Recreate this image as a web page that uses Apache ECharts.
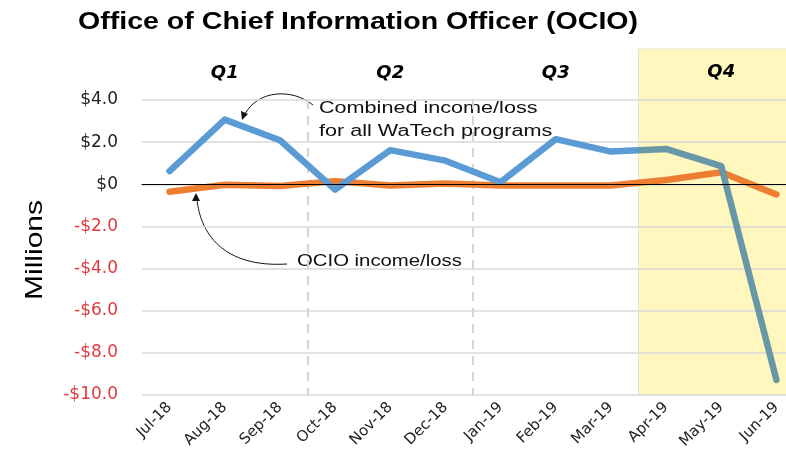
<!DOCTYPE html>
<html>
<head>
<meta charset="utf-8">
<script src="https://cdn.jsdelivr.net/npm/echarts@6/dist/echarts.min.js"></script>
<style>
html, body { margin: 0; padding: 0; background: #fff; }
#chart { width: 786px; height: 459px; }
</style>
</head>
<body>
<div id="chart"></div>
<script>
// data
var months = ['Jul-18', 'Aug-18', 'Sep-18', 'Oct-18', 'Nov-18', 'Dec-18',
    'Jan-19', 'Feb-19', 'Mar-19', 'Apr-19', 'May-19', 'Jun-19'];
var combined = [0.63, 3.07, 2.09, -0.25, 1.62, 1.12, 0.1, 2.14, 1.55, 1.68, 0.86, -9.28];
var ocio = [-0.35, -0.02, -0.08, 0.15, -0.06, 0.04, -0.06, -0.06, -0.06, 0.2, 0.57, -0.48];
var quarters = ['Q1', 'Q2', 'Q3', 'Q4'];
var quarterStart = [0, 3, 6, 9];
var yTicks = [-10, -8, -6, -4, -2, 0, 2, 4];

var blue = '#5B9BD5',
    teal = '#6898A7',
    orange = '#ED7D31';

var chart = echarts.init(document.getElementById('chart'));

// quarter bands, Q4 shaded
var qAreas = [];
quarters.forEach(function(q, i) {
    qAreas.push([{
        name: q,
        xAxis: quarterStart[i],
        itemStyle: i == 3 ? { color: '#FFF7BD', borderColor: '#E4E4D4', borderWidth: 1 } : { color: 'rgba(0,0,0,0)' }
    }, {
        xAxis: quarterStart[i] + 3
    }]);
});

// horizontal grid lines plus the quarter separators
var gridLines = yTicks.map(function(v) {
    return { yAxis: v, lineStyle: { color: '#D9D9D9', type: 'solid', width: 1.5 } };
});
[3, 6].forEach(function(x) {
    gridLines.push([{ xAxis: x, yAxis: 4 }, { xAxis: x, yAxis: -10 }]);
});

var option = {
    animation: false,
    textStyle: { fontFamily: 'DejaVu Sans, sans-serif' },
    grid: { left: 142, top: 49, width: 662, bottom: 64, outerBoundsMode: 'none' },
    xAxis: [{
        type: 'category',
        data: months,
        boundaryGap: true,
        z: 10,
        axisLine: { onZero: true, lineStyle: { color: '#000', width: 1 } },
        axisTick: { show: false },
        axisLabel: { rotate: 45, fontSize: 15, color: '#222', margin: 10, interval: 0 }
    }, {
        type: 'value',
        min: 0,
        max: 12,
        show: false
    }],
    yAxis: {
        type: 'value',
        min: -10,
        max: 6.42,
        interval: 2,
        axisLine: { show: false },
        axisTick: { show: false },
        splitLine: { show: false },
        axisLabel: {
            fontSize: 17,
            margin: 24,
            formatter: function(v) {
                if (v > 4) return '';
                if (v == 0) return '$0';
                return (v < 0 ? '-$' : '$') + Math.abs(v).toFixed(1);
            },
            color: function(v) {
                return v < 0 ? '#E03A3E' : '#222';
            }
        }
    },
    graphic: [{
        type: 'text',
        x: 78, y: 10,
        scaleX: 1.19,
        style: { text: 'Office of Chief Information Officer (OCIO)', font: 'bold 24px Liberation Sans', fill: '#000' }
    }, {
        type: 'text',
        x: 23, y: 300,
        rotation: Math.PI / 2,
        scaleX: 1.25,
        style: { text: 'Millions', font: '24px Liberation Sans', fill: '#000' }
    }, {
        type: 'text',
        x: 319, y: 97,
        scaleX: 1.35,
        style: { text: 'Combined income/loss\nfor all WaTech programs', font: '16px Liberation Sans', fill: '#111', lineHeight: 23 }
    }, {
        type: 'text',
        x: 297, y: 254,
        scaleX: 1.27,
        style: { text: 'OCIO income/loss', font: '16px Liberation Sans', fill: '#111' }
    }, {
        type: 'bezierCurve',
        shape: { x1: 313, y1: 105, cpx1: 292, cpy1: 88, cpx2: 258, cpy2: 90, x2: 245, y2: 114 },
        style: { stroke: '#111', lineWidth: 1, fill: null }
    }, {
        type: 'polygon',
        shape: { points: [[242, 120], [241, 111], [248, 114]] },
        style: { fill: '#111' }
    }, {
        type: 'bezierCurve',
        shape: { x1: 287, y1: 264, cpx1: 222, cpy1: 268, cpx2: 200, cpy2: 232, x2: 197, y2: 199 },
        style: { stroke: '#111', lineWidth: 1, fill: null }
    }, {
        type: 'polygon',
        shape: { points: [[196, 193], [192, 201], [200, 201]] },
        style: { fill: '#111' }
    }],
    series: [{
        type: 'line',
        xAxisIndex: 1,
        data: [],
        z: 0,
        silent: true,
        markArea: {
            silent: true,
            z: 0,
            label: {
                show: true,
                position: 'insideTop',
                distance: 15,
                fontSize: 18,
                fontWeight: 'bold',
                fontStyle: 'italic',
                fontFamily: 'DejaVu Sans',
                color: '#000'
            },
            data: qAreas
        },
        markLine: {
            silent: true,
            z: 3,
            symbol: 'none',
            label: { show: false },
            lineStyle: { color: '#D4D4D4', type: [9, 7], width: 2 },
            data: gridLines
        }
    }, {
        name: 'Combined income/loss for all WaTech programs',
        type: 'line',
        data: combined,
        symbol: 'none',
        z: 5,
        lineStyle: { width: 6.5, color: blue, join: 'round', cap: 'round' },
        itemStyle: { color: blue }
    }, {
        name: 'OCIO income/loss',
        type: 'line',
        data: ocio,
        symbol: 'none',
        z: 4,
        lineStyle: { width: 6.5, color: orange, cap: 'round', join: 'round' },
        itemStyle: { color: orange }
    }]
};
chart.setOption(option);

// blue line takes a darker tint under the Q4 shading
var qx = chart.convertToPixel({ xAxisIndex: 1 }, quarterStart[3]);
chart.setOption({
    series: [{}, {
        lineStyle: {
            color: new echarts.graphic.LinearGradient(qx - 1, 0, qx + 1, 0, [
                { offset: 0, color: blue },
                { offset: 0.5, color: blue },
                { offset: 0.5, color: teal },
                { offset: 1, color: teal }
            ], true)
        }
    }]
});
</script>
</body>
</html>
